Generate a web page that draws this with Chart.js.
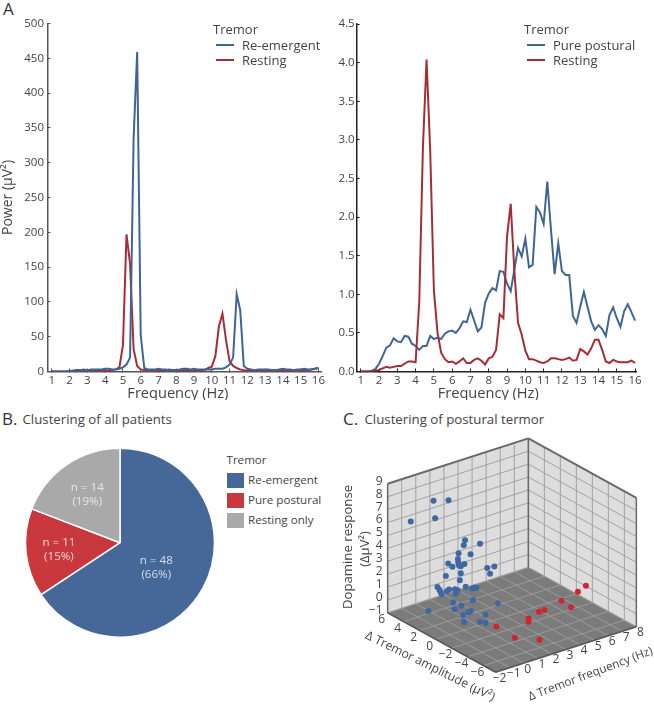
<!DOCTYPE html>
<html>
<head>
<meta charset="utf-8">
<script src="https://cdn.jsdelivr.net/npm/chart.js@4"></script>
<style>
  html, body { margin: 0; padding: 0; background: #fff; }
  body { position: relative; width: 654px; height: 704px; overflow: hidden; font-family: 'Open Sans', sans-serif; color: #444; }
  canvas { position: absolute; }
  .letter { position: absolute; font-size: 17px; line-height: 20px; color: #333; }
  .heading { position: absolute; font-size: 13.25px; line-height: 18px; color: #444; }
  .legend { position: absolute; font-size: 13px; line-height: 16px; }
  .legend div { position: absolute; white-space: nowrap; }
  .legend i { position: absolute; display: block; }
</style>
</head>
<body>
<div class="letter" style="left:3px;top:-1px">A</div>
<div class="letter" style="left:2px;top:409px">B.</div>
<div class="heading" style="left:22.5px;top:410px">Clustering of all patients</div>
<div class="letter" style="left:343px;top:409px">C.</div>
<div class="heading" style="left:364.5px;top:410px">Clustering of postural termor</div>

<canvas id="power-left" width="330" height="400" style="left:0;top:0"></canvas>
<canvas id="power-right" width="324" height="400" style="left:330px;top:0"></canvas>
<canvas id="patients-pie" width="220" height="260" style="left:0;top:420px"></canvas>
<canvas id="postural-3d" width="324" height="304" style="left:330px;top:400px"></canvas>
<div id="legend-left" class="legend" style="left:213px;top:21px"></div>
<div id="legend-right" class="legend" style="left:524px;top:21px"></div>
<div id="legend-pie" class="legend" style="left:226.5px;top:452px;font-size:11.6px"></div>

<script>
// Panel A
const frequencies = [1, 1.2, 1.4, 1.6, 1.8, 2, 2.2, 2.4, 2.6, 2.8, 3, 3.2, 3.4, 3.6, 3.8, 4, 4.2, 4.4, 4.6, 4.8,
  5, 5.2, 5.4, 5.6, 5.8, 6, 6.2, 6.4, 6.6, 6.8, 7, 7.2, 7.4, 7.6, 7.8, 8, 8.2, 8.4, 8.6, 8.8,
  9, 9.2, 9.4, 9.6, 9.8, 10, 10.2, 10.4, 10.6, 10.8, 11, 11.2, 11.4, 11.6, 11.8, 12, 12.2, 12.4, 12.6, 12.8,
  13, 13.2, 13.4, 13.6, 13.8, 14, 14.2, 14.4, 14.6, 14.8, 15, 15.2, 15.4, 15.6, 15.8, 16];
const freqTicks = [1, 2, 3, 4, 5, 6, 7, 8, 9, 10, 11, 12, 13, 14, 15, 16];

const reEmergent = [0, 0, 0, 0, 0, 1, 1, 2, 2, 3, 2, 3, 3, 3, 3, 4, 4, 3, 3, 4,
  6, 10, 20, 335, 459, 52, 5, 3, 3, 3, 4, 3, 3, 2, 2, 2, 3, 4, 4, 3,
  4, 3, 3, 3, 3, 3, 4, 4, 4, 6, 10, 20, 111, 88, 8, 4, 3, 2, 3, 3,
  3, 3, 2, 2, 3, 4, 3, 3, 2, 3, 3, 4, 3, 3, 4, 5];
const restingLeft = [0, 0, 0, 0, 0, 0, 1, 2, 2, 1, 2, 2, 2, 2, 1, 1, 1, 2, 3, 6,
  38, 197, 155, 32, 8, 3, 2, 2, 2, 2, 2, 2, 2, 3, 2, 2, 1, 2, 2, 1,
  2, 1, 2, 2, 5, 7, 22, 65, 83, 45, 15, 8, 5, 3, 2, 1, 1, 1, 1, 1,
  1, 1, 1, 1, 1, 1, 1, 1, 1, 1, 1, 2, 2, 3, 4, 5];
const purePostural = [0, 0, 0, 0.01, 0.03, 0.1, 0.2, 0.31, 0.34, 0.43, 0.39, 0.38, 0.46, 0.45, 0.36, 0.33, 0.28, 0.33, 0.33, 0.46,
  0.42, 0.44, 0.42, 0.49, 0.52, 0.53, 0.5, 0.56, 0.65, 0.64, 0.8, 0.66, 0.52, 0.57, 0.89, 1.01, 1.08, 1.05, 1.3, 1.29,
  1.14, 1.04, 1.32, 1.6, 1.49, 1.72, 1.35, 1.38, 2.13, 2.06, 1.91, 2.46, 1.84, 1.26, 1.66, 1.3, 1.25, 1.25, 0.72, 0.63,
  0.84, 1.03, 0.84, 0.65, 0.54, 0.6, 0.55, 0.46, 0.73, 0.83, 0.69, 0.58, 0.78, 0.87, 0.77, 0.66];
const restingRight = [0, 0, 0, 0, 0.01, 0.02, 0.04, 0.06, 0.05, 0.06, 0.07, 0.07, 0.1, 0.13, 0.13, 0.12, 0.9, 2.9, 4.04, 2.85,
  1.05, 0.5, 0.24, 0.16, 0.12, 0.13, 0.1, 0.13, 0.17, 0.11, 0.11, 0.15, 0.17, 0.14, 0.09, 0.17, 0.19, 0.28, 0.74, 0.69,
  1.75, 2.17, 1.3, 0.63, 0.48, 0.27, 0.16, 0.16, 0.14, 0.12, 0.11, 0.13, 0.17, 0.17, 0.16, 0.15, 0.16, 0.18, 0.14, 0.15,
  0.29, 0.26, 0.22, 0.3, 0.41, 0.41, 0.28, 0.13, 0.11, 0.15, 0.13, 0.12, 0.12, 0.12, 0.14, 0.11];

// Panel B
const pieLabels = ['Re-emergent', 'Pure postural', 'Resting only'];
const pieCounts = [48, 11, 14];
const piePercents = [66, 15, 19];

// Panel C: depth is not readable from a flat picture, so frequency is a best guess for the blue group
const blueFreq = [-1, 0, 0, 0, 0, 0, 0, 0, 0, 0, 0, 0, 0, 0, 0, 0, 0, 0, 0, 0, 0, 0,
  -1, -1, -1, -1, -1, -1, -1, -1, -1, -1, -1, -1, -1,
  -1, -1, -1, -1, -1, -1, -1, -1, -1, -1, -1, -1, -1];
const blueAmp = [4.87, 3.78, 1.91, 3.58, -0.16, 0, -2.03, 0.65, -0.85, 0.73, 0.69, 1.95, 1.42, 0.61, 0.37, -0.08, 0.37, 2.24, 0.49, -2.93, -3.82, -3.29,
  1.53, 1.29, 1.13, 1, 0.35, 0.07, -0.66, -0.99, -0.74, -2, -2.82, -3.1, -3.34,
  -0.42, -2.9, -6.03, -1.47, -0.62, 2.67, -2.65, -2.37, -1.68, -4.48, -1.8, -3.79, -4.48];
const blueDopamine = [6.11, 7.75, 8.41, 6.45, 6.02, 5.59, 6.38, 4.74, 5.17, 4.26, 4.02, 3.51, 3.42, 3.82, 3.83, 4.16, 3.28, 2.43, 2.7, 4.82, 5.23, 4.5,
  2.17, 2.05, 1.91, 1.77, 2.25, 2.47, 2.74, 2.78, 2.42, 3.4, 3.55, 3.7, 3.78,
  1.63, 2.65, 3.49, 1.74, 1.19, -0.08, 1.74, 1.54, 1.08, 2.08, 0.59, 1.27, 1.43];
const redFreq = [7.51, 6.65, 5.2, 5.1, 3.67, 3.29, 2.28, 2, 0.17, 0.1, 1.57];
const redAmp = [-2.06, -2.57, -3.07, -4.44, -3.62, -3.6, -4.11, -4.56, -3.77, -6.21, -6.71];
const redDopamine = [0.5, 0.5, 0.5, 0.5, 0.5, 0.5, 0.5, 0.5, 0.5, 0.5, 0];
const freqAxisTicks = [-2, -1, 0, 1, 2, 3, 4, 5, 6, 7, 8];
const ampAxisTicks = [6, 4, 2, 0, -2, -4, -6];
const dopamineAxisTicks = [-1, 0, 1, 2, 3, 4, 5, 6, 7, 8, 9];

const BLUE = '#3f6597';
const RED = '#a52d36';
const TEXT = '#444';

Chart.defaults.font.family = "'Open Sans', sans-serif";
Chart.defaults.color = TEXT;
Chart.defaults.animation = false;
Chart.defaults.responsive = false;

function toPoints(values) {
  return values.map((v, i) => ({ x: frequencies[i], y: v }));
}

// the x title sits off the axis centre in the reference, so it is placed by scale value
const freqTitle = {
  id: 'freqTitle',
  afterDraw(chart, args, opts) {
    const { ctx, scales: { x } } = chart;
    ctx.save();
    ctx.fillStyle = TEXT;
    ctx.font = "14.6px 'Open Sans'";
    ctx.textAlign = 'center';
    ctx.textBaseline = 'middle';
    ctx.fillText('Frequency (Hz)', x.getPixelForValue(opts.at), 393.5);
    ctx.restore();
  }
};

function drawPowerChart(id, series, cfg) {
  return new Chart(document.getElementById(id), {
    type: 'line',
    data: {
      datasets: series.map(s => ({
        label: s.label,
        data: toPoints(s.values),
        borderColor: s.color,
        backgroundColor: s.color,
        borderWidth: 2,
        pointRadius: 0,
        tension: 0,
        order: s.order
      }))
    },
    options: {
      layout: { padding: { top: cfg.top, right: cfg.right, left: 0, bottom: 0 } },
      plugins: { legend: { display: false }, tooltip: { enabled: false }, freqTitle: { at: cfg.titleAt } },
      scales: {
        x: {
          type: 'linear',
          min: cfg.xMin,
          max: cfg.xMax,
          afterBuildTicks: scale => { scale.ticks = freqTicks.map(v => ({ value: v })); },
          afterFit: scale => { scale.height = 28.5; },
          grid: { drawOnChartArea: false, tickLength: -3, color: cfg.axis },
          border: { color: cfg.axis, width: 1.5 },
          ticks: { padding: 5, maxRotation: 0, autoSkip: false, font: { size: 11.5 } },
        },
        y: {
          min: 0,
          max: cfg.yMax,
          afterFit: scale => { scale.width = cfg.yWidth; },
          grid: { drawOnChartArea: false, tickLength: -3, color: cfg.axis },
          border: { color: cfg.axis, width: 1.5 },
          ticks: { stepSize: cfg.yStep, padding: cfg.yPad, font: { size: 11.5 }, callback: cfg.yFormat },
          title: { display: !!cfg.yTitle, text: cfg.yTitle, font: { size: 14 }, padding: 0 }
        }
      }
    },
    plugins: [freqTitle]
  });
}

const leftChart = drawPowerChart('power-left', [
  { label: 'Re-emergent', values: reEmergent, color: BLUE, order: 1 },
  { label: 'Resting', values: restingLeft, color: RED, order: 2 }
], { top: 23.5, right: 0, xMin: 0.754, xMax: 16.19, yMax: 500, yStep: 50, yWidth: 47.5, yPad: 6.5, axis: '#555', titleAt: 8.09, yTitle: 'Power (µV²)', yFormat: v => v });

const rightChart = drawPowerChart('power-right', [
  { label: 'Pure postural', values: purePostural, color: BLUE, order: 2 },
  { label: 'Resting', values: restingRight, color: RED, order: 1 }
], { top: 24, right: 18, xMin: 0.78, xMax: 16.05, yMax: 4.5, yStep: 0.5, yWidth: 26.7, yPad: 5, axis: '#222', titleAt: 7.97, yTitle: '', yFormat: v => v.toFixed(1) });

function lineLegend(id, chart) {
  const el = document.getElementById(id);
  el.innerHTML = '<div style="left:0;top:0">Tremor</div>';
  chart.data.datasets.forEach((ds, i) => {
    const top = 15.7 * (i + 1);
    el.innerHTML += `<i style="left:3px;top:${top + 7}px;width:17.5px;height:2px;background:${ds.borderColor}"></i>` +
      `<div style="left:29px;top:${top}px">${ds.label}</div>`;
  });
}
lineLegend('legend-left', leftChart);
lineLegend('legend-right', rightChart);

// slice text, at the relative distance
const pieSliceLabels = {
  id: 'pieSliceLabels',
  afterDatasetsDraw(chart) {
    const { ctx } = chart;
    const offsets = [0.46, 0.65, 0.63];
    const nudgeX = [-2, 0, 1];
    const nudgeY = [4, 0, 1.5];
    const colors = ['#d5deeb', '#f3d5d6', '#e8e8e8'];
    chart.getDatasetMeta(0).data.forEach((arc, i) => {
      const mid = (arc.startAngle + arc.endAngle) / 2;
      const r = arc.outerRadius * offsets[i];
      const x = arc.x + Math.cos(mid) * r + nudgeX[i];
      const y = arc.y + Math.sin(mid) * r + nudgeY[i];
      ctx.save();
      ctx.fillStyle = colors[i];
      ctx.font = "11.6px 'Open Sans'";
      ctx.textAlign = 'center';
      ctx.textBaseline = 'middle';
      ctx.fillText('n = ' + pieCounts[i], x, y - 7);
      ctx.fillText('(' + piePercents[i] + '%)', x, y + 7);
      ctx.restore();
    });
  }
};

const pieColors = ['#466899', '#c9383d', '#a9a9a9'];
new Chart(document.getElementById('patients-pie'), {
  type: 'pie',
  data: {
    labels: pieLabels,
    datasets: [{ data: pieCounts, backgroundColor: pieColors, borderColor: '#fff', borderWidth: 1.5 }]
  },
  options: {
    layout: { padding: { left: 25.5, top: 28.2, right: 5.5, bottom: 42.8 } },
    radius: 94.5,
    plugins: { legend: { display: false }, tooltip: { enabled: false } }
  },
  plugins: [pieSliceLabels]
});

const pieLegend = document.getElementById('legend-pie');
pieLegend.innerHTML = '<div style="left:0;top:0">Tremor</div>';
pieLabels.forEach((label, i) => {
  const top = 21 + 20 * i;
  pieLegend.innerHTML += `<i style="left:0;top:${top}px;width:17.5px;height:15px;background:${pieColors[i]}"></i>` +
    `<div style="left:21.5px;top:${top - 1}px">${label}</div>`;
});

// Orthographic box of panel C, in the plane of the hidden x/y scales
function project(f, a, z) {
  const u = f + 2, v = a + 7.5, w = z + 1;
  return { x: 165.7 + u * 14.43 - v * 8.2, y: 275.5 - u * 4.67 - v * 4.52 - w * 13.25 };
}

const box3d = {
  id: 'box3d',
  beforeDatasetsDraw(chart) {
    const { ctx, scales: { x, y } } = chart;
    const px = (f, a, z) => {
      const p = project(f, a, z);
      return [x.getPixelForValue(p.x), y.getPixelForValue(p.y)];
    };
    const poly = (pts, fill) => {
      ctx.beginPath();
      pts.forEach((p, i) => (i ? ctx.lineTo(p[0], p[1]) : ctx.moveTo(p[0], p[1])));
      ctx.closePath();
      ctx.fillStyle = fill;
      ctx.fill();
    };
    const seg = (a, b, color, width) => {
      ctx.beginPath();
      ctx.moveTo(a[0], a[1]);
      ctx.lineTo(b[0], b[1]);
      ctx.strokeStyle = color;
      ctx.lineWidth = width;
      ctx.stroke();
    };
    const fMin = -2, fMax = 8, aMin = -7.5, aMax = 6, zMin = -1, zMax = 9;
    ctx.save();
    poly([px(fMin, aMax, zMin), px(fMax, aMax, zMin), px(fMax, aMax, zMax), px(fMin, aMax, zMax)], '#dddddd');
    poly([px(fMax, aMax, zMin), px(fMax, aMin, zMin), px(fMax, aMin, zMax), px(fMax, aMax, zMax)], '#dddddd');
    poly([px(fMin, aMin, zMin), px(fMax, aMin, zMin), px(fMax, aMax, zMin), px(fMin, aMax, zMin)], '#7b7b7b');
    const wallGrid = '#a2a2a2', floorGrid = '#9b9b9b';
    dopamineAxisTicks.forEach(z => {
      seg(px(fMin, aMax, z), px(fMax, aMax, z), wallGrid, 1);
      seg(px(fMax, aMax, z), px(fMax, aMin, z), wallGrid, 1);
    });
    freqAxisTicks.forEach(f => {
      seg(px(f, aMax, zMin), px(f, aMax, zMax), wallGrid, 1);
      seg(px(f, aMin, zMin), px(f, aMax, zMin), floorGrid, 1);
    });
    ampAxisTicks.forEach(a => {
      seg(px(fMax, a, zMin), px(fMax, a, zMax), wallGrid, 1);
      seg(px(fMin, a, zMin), px(fMax, a, zMin), floorGrid, 1);
    });
    const edge = '#6a6a6a';
    seg(px(fMin, aMax, zMin), px(fMin, aMax, zMax), edge, 1.5);
    seg(px(fMin, aMax, zMax), px(fMax, aMax, zMax), edge, 2);
    seg(px(fMax, aMax, zMax), px(fMax, aMin, zMax), edge, 2);
    seg(px(fMax, aMin, zMax), px(fMax, aMin, zMin), edge, 1.5);
    seg(px(fMax, aMax, zMin), px(fMax, aMax, zMax), edge, 1.5);
    seg(px(fMin, aMax, zMin), px(fMin, aMin, zMin), '#555', 1.5);
    seg(px(fMin, aMin, zMin), px(fMax, aMin, zMin), '#555', 1.5);

    // axis tick labels and titles
    ctx.fillStyle = TEXT;
    ctx.font = "12px 'Open Sans'";
    ctx.textBaseline = 'middle';
    ctx.textAlign = 'right';
    dopamineAxisTicks.forEach(z => {
      const p = px(fMin, aMax, z);
      ctx.fillText(String(z).replace('-', '−'), p[0] - 5, p[1] - 2.5);
    });
    ctx.textAlign = 'center';
    ampAxisTicks.forEach(a => {
      const p = px(fMin, a, zMin);
      ctx.fillText(String(a).replace('-', '−'), p[0] - 6, p[1] + 7);
    });
    freqAxisTicks.forEach(f => {
      const p = px(f, aMin, zMin);
      ctx.fillText(String(f).replace('-', '−'), p[0] + 4, p[1] + 6);
    });
    const turned = (text, cx, cy, angle, size) => {
      ctx.save();
      ctx.translate(cx, cy);
      ctx.rotate(angle);
      ctx.font = size + "px 'Open Sans'";
      ctx.fillText(text, 0, 0);
      ctx.restore();
    };
    turned('Dopamine response', x.left + 14, y.top + 143, -Math.PI / 2, 13.2);
    turned('(ΔµV²)', x.left + 31, y.top + 145, -Math.PI / 2, 13);
    turned('Δ Tremor amplitude (µV²)', x.left + 96, y.top + 262.5, 0.46, 12.2);
    turned('Δ Tremor frequency (Hz)', x.left + 256.5, y.top + 270, -0.36, 11.7);
    ctx.restore();
  }
};

function toPoints3d(freq, amp, dopamine) {
  return freq.map((f, i) => project(f, amp[i], dopamine[i]));
}

new Chart(document.getElementById('postural-3d'), {
  type: 'scatter',
  data: {
    datasets: [
      { label: 'Re-emergent', data: toPoints3d(blueFreq, blueAmp, blueDopamine), backgroundColor: '#3f68a3', borderWidth: 0, pointRadius: 3 },
      { label: 'Pure postural', data: toPoints3d(redFreq, redAmp, redDopamine), backgroundColor: '#cf2530', borderWidth: 0, pointRadius: 3 }
    ]
  },
  options: {
    layout: { padding: 0 },
    plugins: { legend: { display: false }, tooltip: { enabled: false } },
    scales: {
      x: { display: false, min: 0, max: 324 },
      y: { display: false, min: 0, max: 304, reverse: true }
    }
  },
  plugins: [box3d]
});
</script>
</body>
</html>
